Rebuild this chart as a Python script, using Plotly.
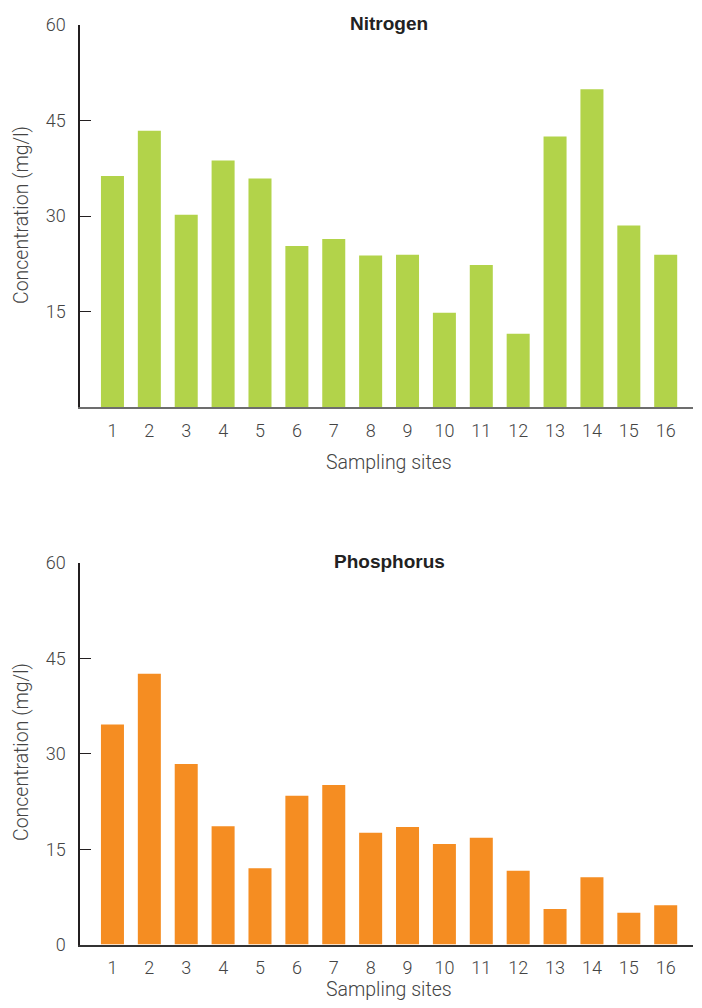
import plotly.graph_objects as plotgr

sites = list(range(1, 17))
site_labels = [str(s) for s in sites]
nitrogen = [36.3, 43.4, 30.2, 38.7, 35.9, 25.3, 26.4, 23.8, 23.9, 14.8, 22.3, 11.5, 42.5, 49.9, 28.5, 23.9]
phosphorus = [34.6, 42.6, 28.4, 18.6, 12.0, 23.4, 25.1, 17.6, 18.5, 15.8, 16.8, 11.6, 5.6, 10.6, 5.0, 6.2]
top_ticks = [15, 30, 45, 60]
bottom_ticks = [0, 15, 30, 45, 60]

green = '#b2d34a'
orange = '#f58d22'
txt = '#444444'
font_name = 'Roboto'

# page body has an 8px margin, so the figure is made 16px smaller than the window
W, H = 686, 992
OFF = 8
L, R = 72, 1
plot_w = W - L - R


def py(page_y):
    # page pixel -> paper fraction (t = b = 0)
    return 1 - (page_y - OFF) / H


def px_(page_x):
    return (page_x - OFF - L) / plot_w


fig = plotgr.Figure()
fig.add_trace(plotgr.Bar(x=sites, y=nitrogen, marker_color=green, marker_line_width=0,
                         xaxis='x', yaxis='y', showlegend=False))
fig.add_trace(plotgr.Bar(x=sites, y=phosphorus, marker_color=orange, marker_line_width=0,
                         xaxis='x2', yaxis='y2', showlegend=False))

tick_font = dict(family=font_name, size=18, color=txt, weight=300)
xcommon = dict(range=[0.12, 16.74], tickvals=sites, ticktext=site_labels, showgrid=False,
               zeroline=False, showline=True, linewidth=2, ticks='', automargin=False,
               tickfont=tick_font, ticklabelstandoff=6)
ycommon = dict(range=[0, 60], showgrid=False, zeroline=False, showline=True,
               linecolor='#231f20', linewidth=1.5, ticks='inside', ticklen=11,
               tickcolor='#231f20', tickwidth=1.3, automargin=False,
               tickfont=tick_font, ticklabelstandoff=9)

ann_font = dict(family=font_name, size=19.5, color=txt, weight=300)
title_font = dict(family='Liberation Sans', size=19, color='#222222')

fig.update_layout(
    width=W, height=H,
    margin=dict(l=L, r=R, t=0, b=0, pad=0),
    plot_bgcolor='white', paper_bgcolor='white',
    bargap=0.376,
    xaxis=dict(domain=[0, 1], anchor='y', linecolor='#6d6d6d', **xcommon),
    yaxis=dict(domain=[py(407), py(25)], anchor='x', tickvals=top_ticks, **ycommon),
    xaxis2=dict(domain=[0, 1], anchor='y2', linecolor='#333333', **xcommon),
    yaxis2=dict(domain=[py(944.6), py(563)], anchor='x2', tickvals=bottom_ticks, **ycommon),
    annotations=[
        dict(text='<b>Nitrogen</b>', x=px_(389), y=py(24), font=title_font),
        dict(text='<b>Phosphorus</b>', x=px_(389), y=py(561), font=title_font),
        dict(text='Sampling sites', x=px_(389), y=py(462), font=ann_font),
        dict(text='Sampling sites', x=px_(389), y=py(989), font=ann_font),
        dict(text='Concentration (mg/l)', x=px_(21), y=py(215), textangle=-90, font=ann_font),
        dict(text='Concentration (mg/l)', x=px_(21), y=py(752), textangle=-90, font=ann_font),
    ],
)
fig.update_annotations(xref='paper', yref='paper', showarrow=False,
                       xanchor='center', yanchor='middle')

fig.write_html("out.html")
